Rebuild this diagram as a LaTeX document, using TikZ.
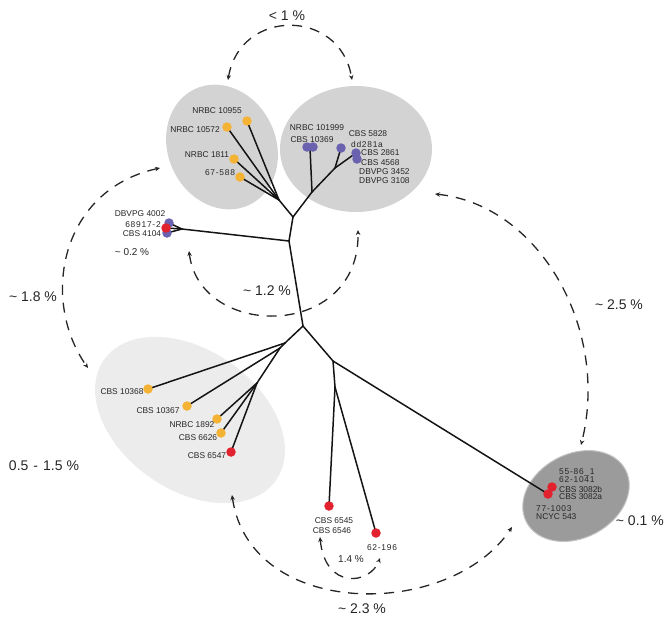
\documentclass[tikz,border=0pt]{standalone}
\usepackage{fontspec}
\setmainfont{Liberation Sans}
\newfontfamily\spc[LetterSpace=9]{Liberation Sans}
\usetikzlibrary{arrows.meta,shapes.geometric}
\definecolor{ellA}{HTML}{D3D3D3}
\definecolor{ellB}{HTML}{ECECEC}
\definecolor{ellC}{HTML}{9B9B9B}
\definecolor{ellCb}{HTML}{C4C4C4}
\definecolor{dorange}{HTML}{F5B335}
\definecolor{dblue}{HTML}{6A62AE}
\definecolor{dred}{HTML}{E2222E}
\begin{document}
\begin{tikzpicture}[x=1pt,y=-1pt,
  branch/.style={line width=1.5pt, line cap=round, black!92},
  dotbase/.style={circle, inner sep=0pt, minimum size=9.5pt},
  dotO/.style={dotbase, fill=dorange},
  dotB/.style={dotbase, fill=dblue},
  dotR/.style={dotbase, fill=dred},
  lab/.style={font=\fontsize{8.4}{9}\selectfont, inner sep=0pt, text=black!85},
  big/.style={font=\fontsize{14}{16}\selectfont, inner sep=0pt, text=black!85},
  midl/.style={font=\fontsize{10}{12}\selectfont, inner sep=0pt, text=black!85},
  darc/.style={line width=1.3pt, dash pattern=on 10pt off 8pt, black!85,
    {Stealth[length=5pt,width=4.5pt]}-{Stealth[length=5pt,width=4.5pt]}},
  blob/.style={ellipse, inner sep=0pt},
]
\useasboundingbox (0,0) rectangle (666,621);

% ---- ellipses
\node[blob, fill=ellA, minimum width=108pt, minimum height=128pt, rotate=25] (eUL) at (222,147) {};
\node[blob, fill=ellA, minimum width=152pt, minimum height=126pt] (eUR) at (356,149) {};
\node[blob, fill=ellB, minimum width=210pt, minimum height=140pt, rotate=-35] (eLL) at (190,420) {};
\node[blob, fill=ellC, draw=ellCb, line width=1pt, minimum width=112pt, minimum height=84pt, rotate=28] (eNC) at (576,496) {};

% ---- dot positions
\coordinate (o1) at (227,127);
\coordinate (o2) at (247,121);
\coordinate (o3) at (234,159);
\coordinate (o4) at (240,177);
\coordinate (b1) at (307,147);
\coordinate (b2) at (313,147);
\coordinate (bc) at (310,148);
\coordinate (b3) at (341,148);
\coordinate (b4) at (356,153);
\coordinate (b5) at (357,159);
\coordinate (b6) at (169,223);
\coordinate (r1) at (166,228);
\coordinate (b7) at (167,233);
\coordinate (o5) at (148,389);
\coordinate (o6) at (187,406);
\coordinate (o7) at (217,419);
\coordinate (o8) at (221,433);
\coordinate (r2) at (231,452);
\coordinate (r3) at (329,506);
\coordinate (r4) at (376,533);
\coordinate (r5) at (552,487);
\coordinate (r6) at (548,494);

% ---- junctions
\coordinate (LH) at (279,200);
\coordinate (J1) at (293,217);
\coordinate (RH) at (312,192);
\coordinate (RJ) at (335,168);
\coordinate (J2) at (289,241);
\coordinate (DBH) at (182,229);
\coordinate (J3) at (303,326);
\coordinate (J4) at (285,343);
\coordinate (J5) at (280,348);
\coordinate (J6) at (257,383);
\coordinate (J7) at (333,361);
\coordinate (J8) at (335,387);

% ---- tree
\draw[branch] (LH) -- (o1);
\draw[branch] (LH) -- (o2);
\draw[branch] (LH) -- (o3);
\draw[branch] (LH) -- (o4);
\draw[branch] (LH) -- (J1);
\draw[branch] (J1) -- (RH);
\draw[branch] (RH) -- (bc);
\draw[branch] (RH) -- (RJ);
\draw[branch] (RJ) -- (b3);
\draw[branch] (RJ) -- (b4);
\draw[branch] (J1) -- (J2);
\draw[branch] (J2) -- (DBH);
\draw[branch] (DBH) -- (b6);
\draw[branch] (DBH) -- (r1);
\draw[branch] (DBH) -- (b7);
\draw[branch] (J2) -- (J3);
\draw[branch] (J3) -- (J4);
\draw[branch] (J4) -- (o5);
\draw[branch] (J4) -- (J5);
\draw[branch] (J5) -- (o6);
\draw[branch] (J5) -- (J6);
\draw[branch] (J6) -- (o7);
\draw[branch] (J6) -- (o8);
\draw[branch] (J6) -- (r2);
\draw[branch] (J3) -- (J7);
\draw[branch] (J7) -- (J8);
\draw[branch] (J8) -- (r3);
\draw[branch] (J8) -- (r4);
\draw[branch] (J7) -- (r6);

% ---- dots
\node[dotO] (n1) at (o1) {};
\node[dotO] (n2) at (o2) {};
\node[dotO] (n3) at (o3) {};
\node[dotO] (n4) at (o4) {};
\node[dotB] (n5) at (b1) {};
\node[dotB] (n6) at (b2) {};
\node[dotB] (n7) at (b3) {};
\node[dotB] (n8) at (b4) {};
\node[dotB] (n9) at (b5) {};
\node[dotB] (n10) at (b6) {};
\node[dotB] (n11) at (b7) {};
\node[dotR] (n12) at (r1) {};
\node[dotO] (n13) at (o5) {};
\node[dotO] (n14) at (o6) {};
\node[dotO] (n15) at (o7) {};
\node[dotO] (n16) at (o8) {};
\node[dotR] (n17) at (r2) {};
\node[dotR] (n18) at (r3) {};
\node[dotR] (n19) at (r4) {};
\node[dotR] (n20) at (r5) {};
\node[dotR] (n21) at (r6) {};

% ---- labels upper left
\node[lab] (t1) at (217,111) {NRBC 10955};
\node[lab] (t2) at (195,130) {NRBC 10572};
\node[lab] (t3) at (207,155) {NRBC 1811};
\node[lab] (t4) at (220,173) {\spc 67-588};
% upper right
\node[lab] (t5) at (317,128) {NRBC 101999};
\node[lab] (t6) at (312,140) {CBS 10369};
\node[lab] (t7) at (368,134) {CBS 5828};
\node[lab] (t8) at (367,144) {\spc dd281a};
\node[lab, anchor=west] (t9) at (361,153) {CBS 2861};
\node[lab, anchor=west] (t10) at (361,163) {CBS 4568};
\node[lab, anchor=west] (t11) at (359,172) {DBVPG 3452};
\node[lab, anchor=west] (t12) at (359,181) {DBVPG 3108};
% DBVPG cluster
\node[lab] (t13) at (140,214) {DBVPG 4002};
\node[lab] (t14) at (143,225) {\spc 68917-2};
\node[lab] (t15) at (142,234) {CBS 4104};
\node[midl] (t16) at (132,252) {\textasciitilde\ 0.2 \%};
% lower left
\node[lab] (t17) at (122,392) {CBS 10368};
\node[lab] (t18) at (158,411) {CBS 10367};
\node[lab] (t19) at (192,425) {NRBC 1892};
\node[lab] (t20) at (198,438) {CBS 6626};
\node[lab] (t21) at (207,456) {CBS 6547};
\node[big] (t22) at (44,466) {0.5\hspace{5pt}-\hspace{5pt}1.5\hspace{4pt}\%};
% bottom
\node[lab] (t23) at (334,521) {CBS 6545};
\node[lab] (t24) at (332,531) {CBS 6546};
\node[lab] (t25) at (382,548) {\spc 62-196};
\node[midl] (t26) at (351,559) {1.4 \%};
\node[big] (t27) at (362,609) {\textasciitilde\ 2.3 \%};
% NCYC
\node[lab, anchor=west] (t28) at (559,472) {\spc 55-86\_1};
\node[lab, anchor=west] (t29) at (559,480) {\spc 62-1041};
\node[lab, anchor=west] (t30) at (559,489) {CBS 3082b};
\node[lab, anchor=west] (t31) at (559,497) {CBS 3082a};
\node[lab, anchor=west] (t32) at (536,509) {\spc 77-1003};
\node[lab, anchor=west] (t33) at (536,517) {NCYC 543};
\node[big, anchor=east] (t34) at (664,521) {\textasciitilde\ 0.1 \%};
% other distance labels
\node[big] (t35) at (287,16) {< 1 \%};
\node[big] (t36) at (267,291) {\textasciitilde\ 1.2 \%};
\node[big] (t37) at (33,297) {\textasciitilde\ 1.8 \%};
\node[big] (t38) at (619,305) {\textasciitilde\ 2.5 \%};

% ---- dashed arcs
\coordinate (a1s) at (228,80);
\coordinate (a1e) at (352,80);
\draw[darc] (a1s) .. controls (240,8) and (340,8) .. (a1e);
\coordinate (a2s) at (189,251);
\coordinate (a2e) at (358,230);
\draw[darc] (a2s) .. controls (200,340) and (360,340) .. (a2e);
\coordinate (a3s) at (232,495);
\coordinate (a3e) at (512,527);
\draw[darc] (a3s) .. controls (250,620) and (450,620) .. (a3e);
\coordinate (a4s) at (320,537);
\coordinate (a4e) at (380,558);
\draw[darc] (a4s) .. controls (325,590) and (370,585) .. (a4e);
\coordinate (a5s) at (435,194);
\coordinate (a5e) at (581,445);
\draw[darc] (a5s) .. controls (540,205) and (610,330) .. (a5e);
\coordinate (a6s) at (160,168);
\coordinate (a6e) at (88,368);
\draw[darc] (a6s) .. controls (60,190) and (40,300) .. (a6e);
\end{tikzpicture}
\end{document}
